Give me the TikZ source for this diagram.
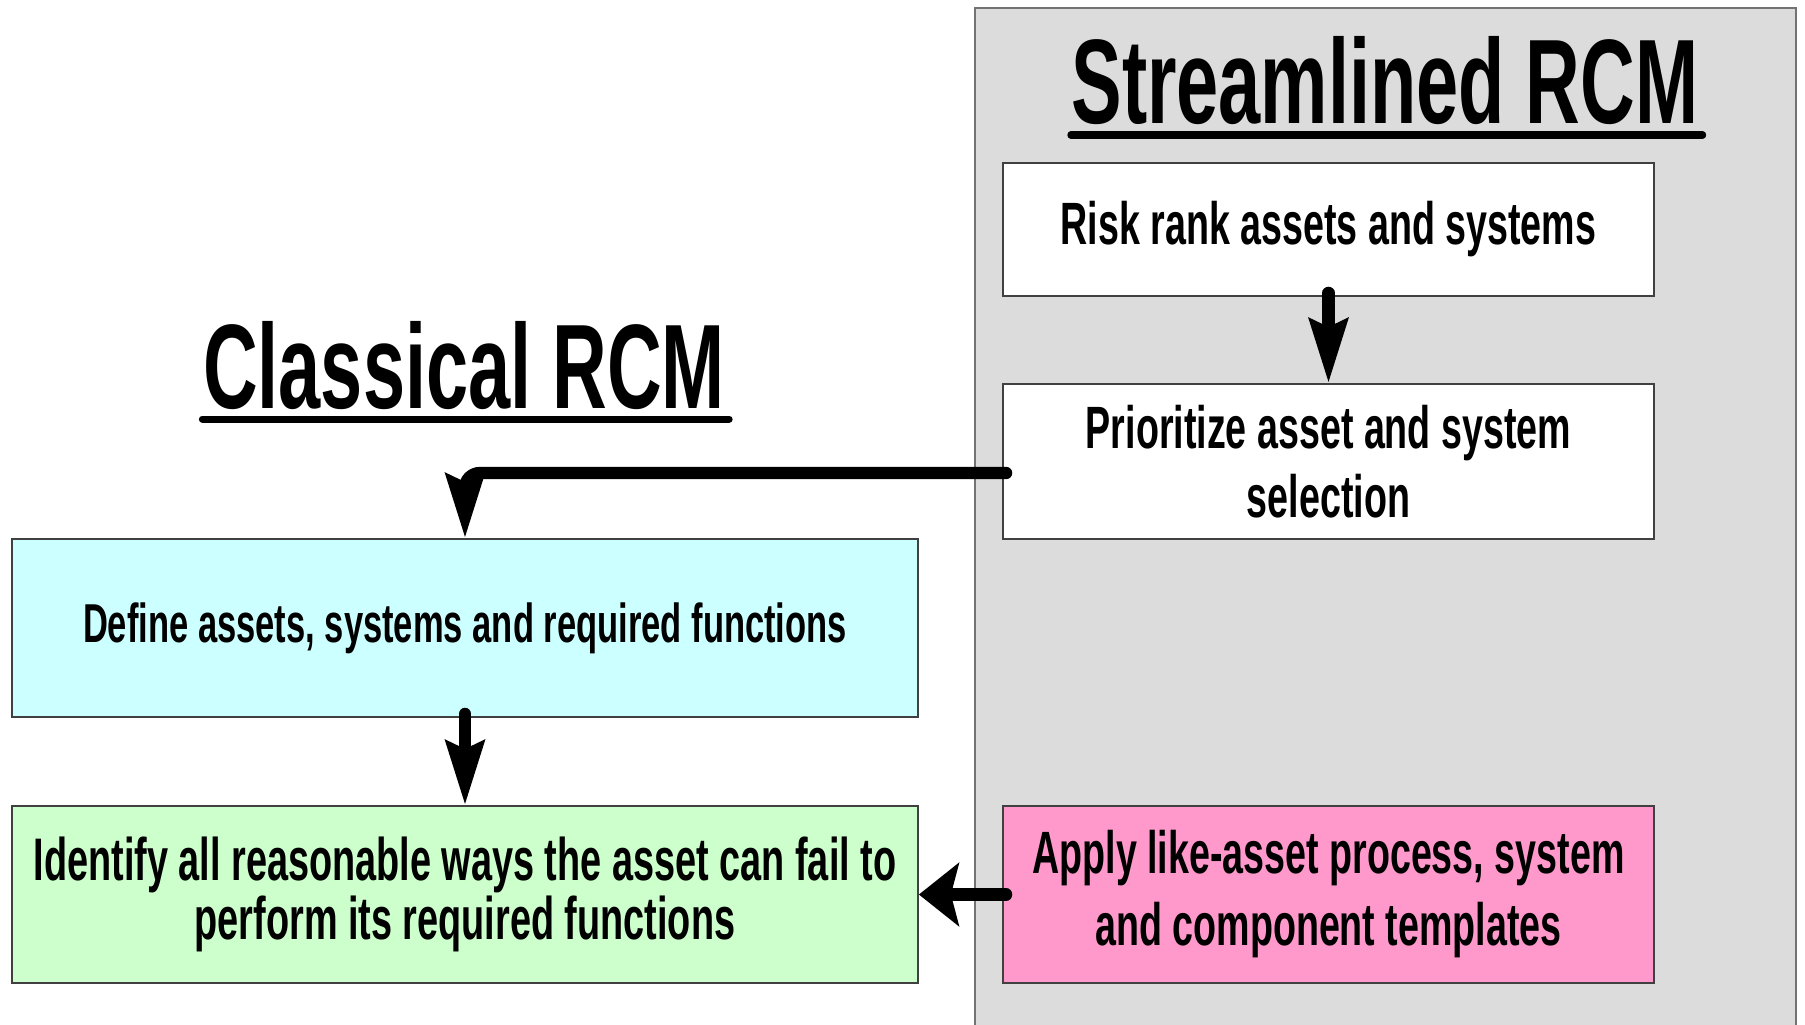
\documentclass[tikz,border=0pt]{standalone}
\usepackage{fontspec}
\setmainfont{Liberation Sans}[FakeStretch=0.63]
\usepackage{xcolor}
\usetikzlibrary{arrows.meta}

\definecolor{panelgray}{RGB}{220,220,220}
\definecolor{defcyan}{RGB}{204,255,255}
\definecolor{idgreen}{RGB}{204,255,204}
\definecolor{applypink}{RGB}{255,153,204}

\begin{document}
\begin{tikzpicture}[
    box/.style={rectangle, draw=black!75, line width=0.5pt, inner sep=0pt, align=center, font=\fontsize{17}{19}\selectfont\bfseries},
    flow/.style={-{Stealth[length=0.64cm, width=0.38cm, inset=0.08cm]}, line width=3.5pt, line cap=round},
    title/.style={font=\fontsize{34.2}{40}\selectfont\bfseries, inner sep=0pt, anchor=base},
    uline/.style={line width=2pt, line cap=round}
]
\useasboundingbox (0,0) rectangle (18.05,-10.24);

% Streamlined panel
\draw[fill=panelgray, draw=black!55, line width=0.6pt] (9.75,-0.08) rectangle (17.96,-10.6);

% Titles
\node[title] (stitle) at (13.85,-1.23) {Streamlined RCM};
\draw[uline] ([xshift=0pt, yshift=-0.12cm]stitle.base west) -- ([xshift=1pt, yshift=-0.12cm]stitle.base east);
\node[title] (ctitle) at (4.64,-4.08) {Classical RCM};
\draw[uline] ([xshift=0pt, yshift=-0.11cm]ctitle.base west) -- ([xshift=1pt, yshift=-0.11cm]ctitle.base east);

% Streamlined steps
\node[box, fill=white, minimum width=6.51cm, minimum height=1.33cm] (risk) at (13.285,-2.295) {Risk rank assets and systems};
\node[box, fill=white, minimum width=6.51cm, minimum height=1.55cm] (prio) at (13.285,-4.615) {Prioritize asset and system\\[0.6pt]selection};
\node[box, fill=applypink, minimum width=6.51cm, minimum height=1.77cm] (apply) at (13.285,-8.945) {Apply like-asset process, system\\[1.5pt]and component templates};

% Classical steps
\node[box, fill=defcyan, minimum width=9.06cm, minimum height=1.78cm, font=\fontsize{15.6}{18}\selectfont\bfseries] (define) at (4.65,-6.28) {Define assets, systems and required functions};
\node[box, fill=idgreen, minimum width=9.06cm, minimum height=1.77cm, font=\fontsize{17.1}{17}\selectfont\bfseries] (identify) at (4.65,-8.945) {Identify all reasonable ways the asset can fail to\\perform its required functions};

% Arrows
\draw[flow] ([yshift=0.04cm]risk.south) -- (prio.north);
\draw[flow, rounded corners=0.15cm] ([xshift=0.04cm, yshift=-0.115cm]prio.west) -| (define.north);
\draw[flow] ([yshift=0.04cm]define.south) -- (identify.north);
\draw[flow, -{Stealth[length=0.4cm, width=0.63cm, inset=0.08cm]}] ([xshift=0.04cm]apply.west) -- (identify.east);

\end{tikzpicture}
\end{document}
